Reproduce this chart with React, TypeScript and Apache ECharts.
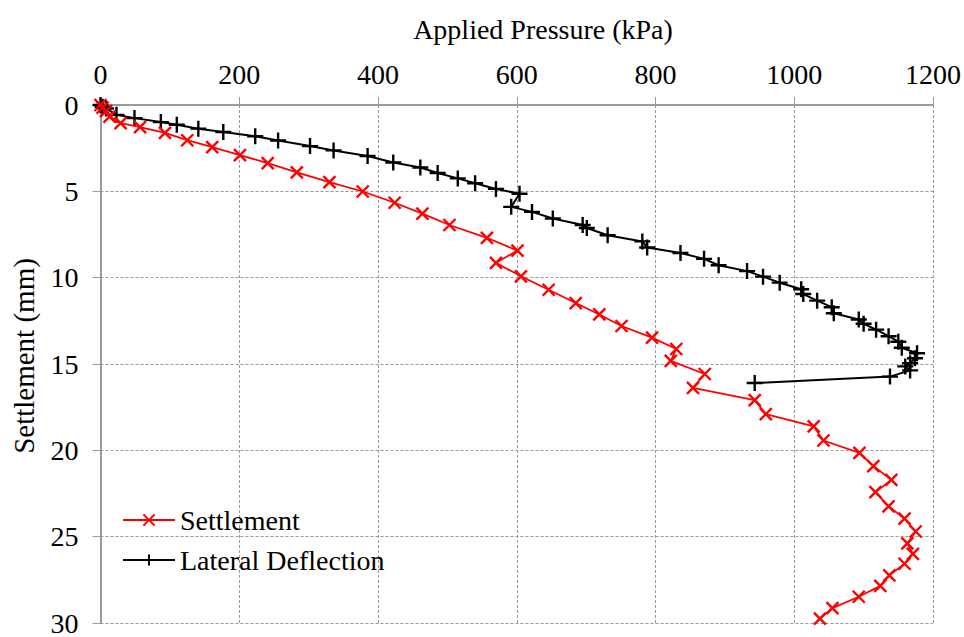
import React, { useEffect, useRef } from "react";
import * as echarts from "echarts";

const xTicks = [0, 200, 400, 600, 800, 1000, 1200];
const yTicks = [0, 5, 10, 15, 20, 25, 30];

const settlementPressure = [
  0, 3, 8, 13, 29, 57, 93, 125, 161, 201, 241, 283, 330, 378, 424, 464, 503, 557, 601, 570, 606, 646,
  685, 719, 751, 795, 830, 822, 871, 854, 943, 959, 1028, 1042, 1094, 1114, 1140, 1117, 1136, 1159,
  1175, 1163, 1171, 1159, 1137, 1124, 1093, 1055, 1037,
];
const settlementValues = [
  0, 0.15, 0.35, 0.67, 1.05, 1.28, 1.62, 2.04, 2.44, 2.9, 3.37, 3.9, 4.47, 5.01, 5.66, 6.29, 6.95, 7.69,
  8.43, 9.14, 9.92, 10.7, 11.47, 12.13, 12.8, 13.47, 14.13, 14.82, 15.58, 16.38, 17.09, 17.9, 18.61,
  19.43, 20.15, 20.91, 21.71, 22.42, 23.24, 23.96, 24.7, 25.39, 26.0, 26.57, 27.24, 27.85, 28.48,
  29.14, 29.75,
];

const lateralPressure = [
  0, 3, 8, 23, 49, 87, 110, 141, 177, 223, 256, 302, 336, 385, 422, 461, 486, 515, 540, 570, 604, 592,
  622, 652, 695, 701, 731, 781, 788, 836, 870, 891, 932, 955, 979, 1010, 1013, 1033, 1054, 1057, 1093,
  1100, 1118, 1136, 1150, 1155, 1177, 1174, 1167, 1160, 1167, 1138, 943,
];
const lateralValues = [
  0, 0.1, 0.2, 0.57, 0.76, 0.99, 1.14, 1.37, 1.56, 1.81, 2.06, 2.38, 2.63, 2.95, 3.33, 3.62, 3.94, 4.25,
  4.53, 4.86, 5.14, 5.9, 6.19, 6.57, 6.95, 7.12, 7.54, 7.9, 8.25, 8.57, 8.91, 9.28, 9.62, 9.94, 10.29,
  10.67, 10.95, 11.33, 11.71, 12.06, 12.42, 12.67, 13.01, 13.39, 13.71, 14.06, 14.38, 14.67, 14.95,
  15.14, 15.37, 15.73, 16.1,
];

const FONT = "Liberation Serif";
const FS = 28;

export default function App() {
  const ref = useRef<HTMLDivElement>(null);
  useEffect(() => {
    if (!ref.current) return;
    const chart = echarts.init(ref.current, undefined, { renderer: "svg" });
    const settlementData = settlementPressure.map((p, i) => [p, settlementValues[i]]);
    const lateralData = lateralPressure.map((p, i) => [p, lateralValues[i]]);
    const axisGray = "#9a9a9a";
    chart.setOption({
      animation: false,
      backgroundColor: "#ffffff",
      textStyle: { fontFamily: FONT },
      grid: { left: 100.5, top: 105, width: 834, height: 525, containLabel: false },
      xAxis: {
        type: "value",
        position: "top",
        min: xTicks[0],
        max: xTicks[xTicks.length - 1],
        interval: 200,
        axisLine: { show: true, onZero: false, lineStyle: { color: axisGray, width: 2 } },
        axisTick: { show: true, inside: false, length: 8, lineStyle: { color: axisGray, width: 1 } },
        axisLabel: {
          color: "#000",
          fontFamily: FONT,
          fontSize: FS,
          margin: 17,
          formatter: (v: number) => String(v),
        },
        splitLine: { show: true, lineStyle: { color: "#999", type: [3, 2], width: 1 } },
      },
      yAxis: {
        type: "value",
        inverse: true,
        min: yTicks[0],
        max: yTicks[yTicks.length - 1],
        interval: 5,
        axisLine: { show: true, onZero: false, lineStyle: { color: axisGray, width: 2 } },
        axisTick: { show: true, inside: false, length: 8, lineStyle: { color: axisGray, width: 1 } },
        axisLabel: {
          color: "#000",
          fontFamily: FONT,
          fontSize: FS,
          margin: 22,
          formatter: (v: number) => String(v),
        },
        splitLine: { show: true, lineStyle: { color: "#999", type: [3, 2], width: 1 } },
      },
      legend: {
        orient: "vertical",
        left: 117,
        top: 501,
        itemWidth: 52,
        itemHeight: 14,
        itemGap: 12,
        textStyle: { fontFamily: FONT, fontSize: FS, color: "#000" },
        data: ["Settlement", "Lateral Deflection"],
      },
      graphic: [
        {
          type: "text",
          x: 543,
          y: 29,
          style: {
            text: "Applied Pressure (kPa)",
            fontFamily: FONT,
            fontSize: FS,
            fill: "#000",
            align: "center",
            verticalAlign: "middle",
          },
        },
        {
          type: "text",
          x: 24,
          y: 356,
          rotation: Math.PI / 2,
          style: {
            text: "Settlement (mm)",
            fontFamily: FONT,
            fontSize: 29,
            fill: "#000",
            align: "center",
            verticalAlign: "middle",
          },
        },
      ],
      series: [
        {
          name: "Settlement",
          type: "line",
          data: settlementData,
          symbol: "path://M0,0L10,10M10,0L0,10",
          symbolSize: 12,
          lineStyle: { color: "#ff0000", width: 1.8 },
          itemStyle: { color: "#ff0000", borderColor: "#ff0000", borderWidth: 2.4 },
          z: 3,
        },
        {
          name: "Lateral Deflection",
          type: "line",
          data: lateralData,
          symbol: "path://M5,0L5,10M0,5L10,5",
          symbolSize: 16,
          lineStyle: { color: "#000000", width: 2 },
          itemStyle: { color: "#000000", borderColor: "#000000", borderWidth: 2.4 },
          z: 2,
        },
      ],
    });
    return () => chart.dispose();
  }, []);
  return (
    <div
      ref={ref}
      style={{ position: "fixed", left: 0, top: 0, width: 964, height: 637 }}
    />
  );
}
